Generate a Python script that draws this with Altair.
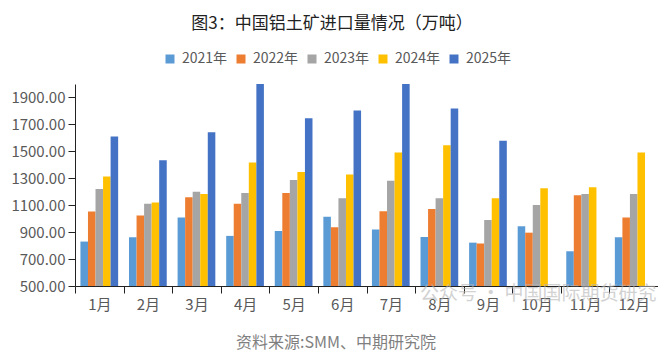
import altair as alt
import pandas as pd

months = ["1月", "2月", "3月", "4月", "5月", "6月", "7月", "8月", "9月", "10月", "11月", "12月"]
years = ["2021年", "2022年", "2023年", "2024年", "2025年"]
v2021 = [830, 862, 1008, 872, 909, 1015, 919, 864, 822, 944, 758, 862]
v2022 = [1053, 1023, 1159, 1110, 1191, 936, 1055, 1072, 815, 896, 1174, 1008]
v2023 = [1221, 1110, 1199, 1191, 1288, 1152, 1281, 1152, 991, 1102, 1184, 1184]
v2024 = [1313, 1120, 1184, 1417, 1347, 1328, 1491, 1546, 1152, 1226, 1233, 1491]
v2025 = [1610, 1434, 1642, 2000, 1746, 1803, 2000, 1818, 1578, None, None, None]
colors = ["#5B9BD5", "#ED7D31", "#A5A5A5", "#FFC000", "#4472C4"]
y_ticks = [500, 700, 900, 1100, 1300, 1500, 1700, 1900]

title_text = "图3：中国铝土矿进口量情况（万吨）"
source_text = "资料来源:SMM、中期研究院"
watermark_text = "公众号 · 中国国际期货研究"

FONT = "Noto Sans CJK SC"

rows = []
for yr, vals in zip(years, [v2021, v2022, v2023, v2024, v2025]):
    for m, v in zip(months, vals):
        if v is not None:
            rows.append({"月份": m, "年份": yr, "值": v})
df = pd.DataFrame(rows)

bars = alt.Chart(df).mark_bar(clip=True).encode(
    x=alt.X("月份:N", sort=months, title=None,
            scale=alt.Scale(paddingInner=0, paddingOuter=0),
            axis=alt.Axis(labelAngle=0, tickBand="extent", domainColor="#222222",
                          tickColor="#222222", tickSize=7, labelPadding=4,
                          labelColor="#595959", labelFontSize=15, labelFont=FONT)),
    xOffset=alt.XOffset("年份:N", sort=years,
                        scale=alt.Scale(paddingInner=0, paddingOuter=0.72)),
    y=alt.Y("值:Q", title=None,
            scale=alt.Scale(domain=[500, 2000], nice=False, zero=False),
            axis=alt.Axis(values=y_ticks, format=".2f", grid=False,
                          domainColor="#222222", tickColor="#222222", tickSize=7,
                          labelPadding=3, labelColor="#595959", labelFontSize=15,
                          labelFont=FONT)),
    color=alt.Color("年份:N", sort=years,
                    scale=alt.Scale(domain=years, range=colors),
                    legend=alt.Legend(title=None, orient="none", direction="horizontal",
                                      legendX=88, legendY=-32, columns=5,
                                      symbolType="square", symbolSize=81,
                                      symbolStrokeWidth=0, labelOffset=5,
                                      columnPadding=6, labelColor="#595959",
                                      labelFontSize=14, labelFont=FONT)),
)

title = alt.Chart(pd.DataFrame({"t": [title_text]})).mark_text(
    font=FONT, fontSize=17, color="#222222", baseline="middle", align="center"
).encode(text="t:N", x=alt.value(257), y=alt.value(-60))

source = alt.Chart(pd.DataFrame({"t": [source_text]})).mark_text(
    font=FONT, fontSize=16, color="#7f7f7f", baseline="middle", align="center"
).encode(text="t:N", x=alt.value(261), y=alt.value(259))

watermark = alt.Chart(pd.DataFrame({"t": [watermark_text]})).mark_text(
    font=FONT, fontSize=19, color="#b5b5b5", opacity=0.6, baseline="middle", align="left"
).encode(text="t:N", x=alt.value(345), y=alt.value(210))

chart = alt.layer(bars, title, source, watermark).properties(
    width=583, height=202,
    autosize=alt.AutoSizeParams(type="none"),
    padding={"left": 67, "top": 76, "right": 0, "bottom": 67},
).configure_view(stroke=None)

chart.save("out.html", embed_options={"renderer": "svg", "actions": False})
